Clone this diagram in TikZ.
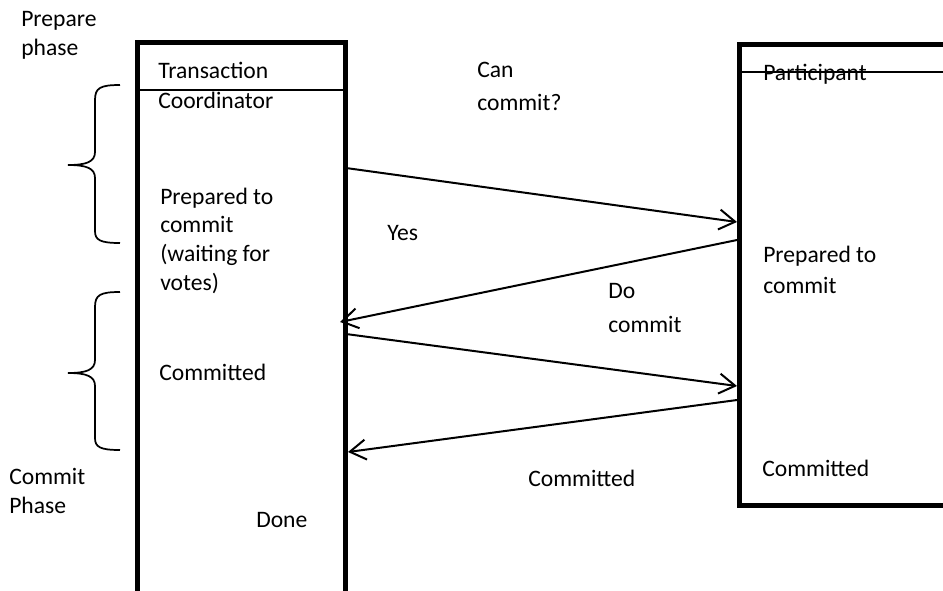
\documentclass[tikz,border=0pt]{standalone}
\usepackage{fontspec}
\setmainfont{Carlito}
\usetikzlibrary{arrows.meta}
\tikzstyle{lane} = [rectangle, draw=black, line width=3.6pt, inner sep=0pt, outer sep=0pt, anchor=north west]
\tikzstyle{label} = [inner sep=0pt, anchor=base west, align=left, font=\fontsize{17.7}{21.5}\selectfont]
\tikzstyle{arrow} = [line width=1.5pt, -{Straight Barb[length=12pt,width=15pt]}]
\tikzstyle{brace} = [line width=1.3pt]

\begin{document}
\begin{tikzpicture}
[x=0.75pt, y=-0.75pt]
\useasboundingbox (0,0) rectangle (943,590);
\clip (0,0) rectangle (943,590);

% lanes
\node (coord) [lane, minimum width=156pt, minimum height=418pt] at (137.5,42.5) {};
\node (part) [lane, minimum width=166pt, minimum height=345.75pt] at (739.5,44.5) {};
\draw [line width=1.1pt] (139,90) -- (344,90);
\draw [line width=1.1pt] (741,72) -- (943,72);

% braces
\draw [brace] (120,85) .. controls (100,85) and (95,88) .. (95,100) -- (95,152)
  .. controls (95,162) and (86,165) .. (68,165) .. controls (86,165) and (95,168) .. (95,178)
  -- (95,231) .. controls (95,240) and (100,243) .. (120,243);
\draw [brace] (120,292) .. controls (100,292) and (95,295) .. (95,307) -- (95,360)
  .. controls (95,370) and (86,373) .. (68,373) .. controls (86,373) and (95,376) .. (95,386)
  -- (95,438) .. controls (95,447) and (100,450) .. (120,450);

% texts (base = last line)
\node (prep) [label] at (21,55) {Prepare\\phase};
\node (tc) [label, font=\fontsize{17.7}{22.5}\selectfont] at (158,108) {Transaction\\Coordinator};
\node (can) [label, font=\fontsize{17.7}{24.5}\selectfont] at (477,110) {Can\\commit?};
\node (ptitle) [label] at (763,80) {Participant};
\node (wait) [label] at (160,290) {Prepared to\\commit\\(waiting for\\votes)};
\node (yes) [label] at (387,240) {Yes};
\node (pprep) [label, font=\fontsize{17.7}{23}\selectfont] at (763,293) {Prepared to\\commit};
\node (docommit) [label, font=\fontsize{17.7}{25}\selectfont] at (608,332) {Do\\commit};
\node (cdone) [label] at (159,380) {Committed};
\node (cphase) [label] at (9,513) {Commit\\Phase};
\node (done) [label] at (256,527) {Done};
\node (ack) [label] at (528,486) {Committed};
\node (pdone) [label] at (762,476) {Committed};

% messages
\coordinate (askfrom) at (346,168);
\coordinate (askto) at (737,222);
\coordinate (yesfrom) at (737,240);
\coordinate (yesto) at (340,322);
\coordinate (dofrom) at (346,334);
\coordinate (doto) at (737,386);
\coordinate (ackfrom) at (737,400);
\coordinate (ackto) at (348,452);

\draw [arrow] (askfrom) -- (askto);
\draw [arrow] (yesfrom) -- (yesto);
\draw [arrow] (dofrom) -- (doto);
\draw [arrow] (ackfrom) -- (ackto);

\end{tikzpicture}
\end{document}
